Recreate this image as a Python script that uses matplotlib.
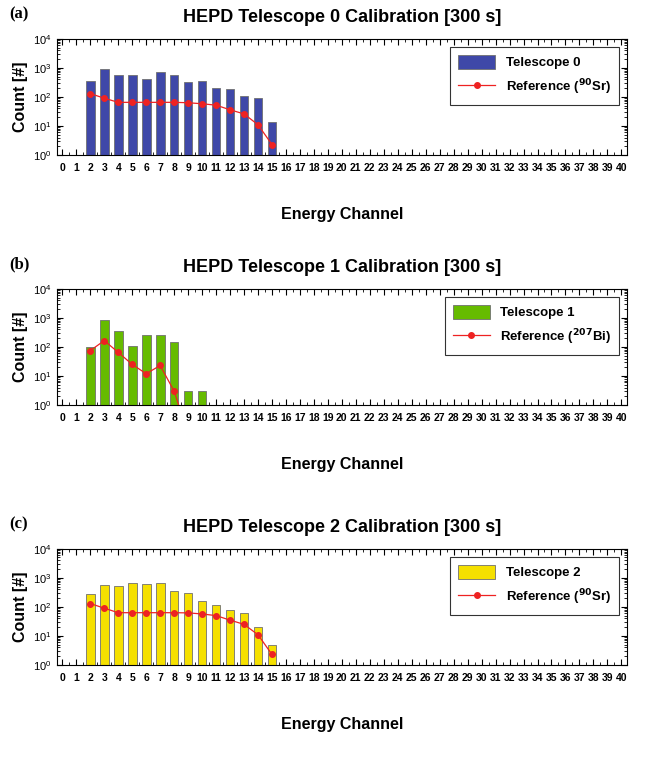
import numpy as np
import matplotlib
matplotlib.use("Agg")
import matplotlib.pyplot as plt
from matplotlib.ticker import LogLocator, MultipleLocator, NullFormatter

plt.rcParams['font.family'] = ['Liberation Sans', 'DejaVu Sans']

# data
ch0 = [2, 3, 4, 5, 6, 7, 8, 9, 10, 11, 12, 13, 14, 15]
tel0 = [340, 900, 580, 550, 420, 700, 550, 320, 340, 210, 180, 105, 90, 14]
ref0 = [130, 90, 65, 65, 65, 65, 65, 63, 58, 52, 36, 26, 11, 2.3]

ch1 = [2, 3, 4, 5, 6, 7, 8, 9, 10]
tel1 = [100, 850, 350, 110, 260, 250, 150, 3, 3]
ref1_ch = [2, 3, 4, 5, 6, 7, 8, 9]
ref1 = [75, 165, 65, 25, 12, 23, 3, 0.1]

ch2 = [2, 3, 4, 5, 6, 7, 8, 9, 10, 11, 12, 13, 14, 15]
tel2 = [280, 570, 510, 640, 600, 660, 350, 300, 160, 120, 75, 62, 21, 5]
ref2 = [130, 90, 63, 63, 63, 63, 63, 62, 57, 50, 35, 25, 11, 2.3]

panels = [
    ("(a)", "HEPD Telescope 0 Calibration [300 s]", ch0, tel0, ch0, ref0,
     "#3f48a8", "Telescope 0", r"Reference ($\mathbf{^{90}}$Sr)", 0.796),
    ("(b)", "HEPD Telescope 1 Calibration [300 s]", ch1, tel1, ref1_ch, ref1,
     "#66bb00", "Telescope 1", r"Reference ($\mathbf{^{207}}$Bi)", 0.467),
    ("(c)", "HEPD Telescope 2 Calibration [300 s]", ch2, tel2, ch2, ref2,
     "#f5e000", "Telescope 2", r"Reference ($\mathbf{^{90}}$Sr)", 0.125),
]

fig = plt.figure(figsize=(6.45, 7.6), dpi=100)

for tag, title, bx, by, rx, ry, color, blab, rlab, bottom in panels:
    ax = fig.add_axes([0.088, bottom, 0.884, 0.153])
    bars = ax.bar(bx, by, width=0.62, color=color, edgecolor="#707070",
                  linewidth=0.6, label=blab, zorder=2)
    line, = ax.plot(rx, ry, color="#ee2222", marker="o", markersize=4,
                    linewidth=0.9, label=rlab, zorder=3)
    ax.set_yscale("log")
    ax.set_ylim(1, 1e4)
    ax.set_xlim(-0.4, 40.4)
    ax.xaxis.set_major_locator(MultipleLocator(1))
    ax.xaxis.set_minor_locator(MultipleLocator(0.5))
    ax.yaxis.set_major_locator(LogLocator(base=10))
    ax.yaxis.set_minor_locator(LogLocator(base=10, subs=np.arange(2, 10)))
    ax.yaxis.set_minor_formatter(NullFormatter())
    ax.tick_params(which="both", direction="in", top=True, right=True)
    ax.tick_params(which="major", length=4, width=0.8, labelsize=7.5)
    ax.tick_params(axis="y", labelsize=8)
    ax.tick_params(which="minor", length=2, width=0.6)
    ax.tick_params(axis="x", pad=6)
    for lab in ax.get_xticklabels():
        lab.set_fontweight("bold")
    ax.set_title(title, fontsize=13, fontweight="bold", pad=12)
    ax.set_xlabel("Energy Channel", fontsize=11.5, fontweight="bold", labelpad=24)
    ax.set_ylabel("Count [#]", fontsize=11.5, fontweight="bold", labelpad=4)
    leg = ax.legend([bars, line], [blab, rlab], loc="upper right", frameon=True,
                    fancybox=False, edgecolor="black", borderaxespad=0.6,
                    handlelength=2.8, handleheight=1.3, labelspacing=0.6,
                    borderpad=0.6, prop={"weight": "bold", "size": 9.5})
    leg.get_frame().set_linewidth(0.8)
    pos = ax.get_position()
    fig.text(0.015, pos.y1 + 0.022, tag, fontsize=12, fontweight="bold",
             family="Liberation Serif", va="bottom")

fig.savefig("out.png", dpi=100)
